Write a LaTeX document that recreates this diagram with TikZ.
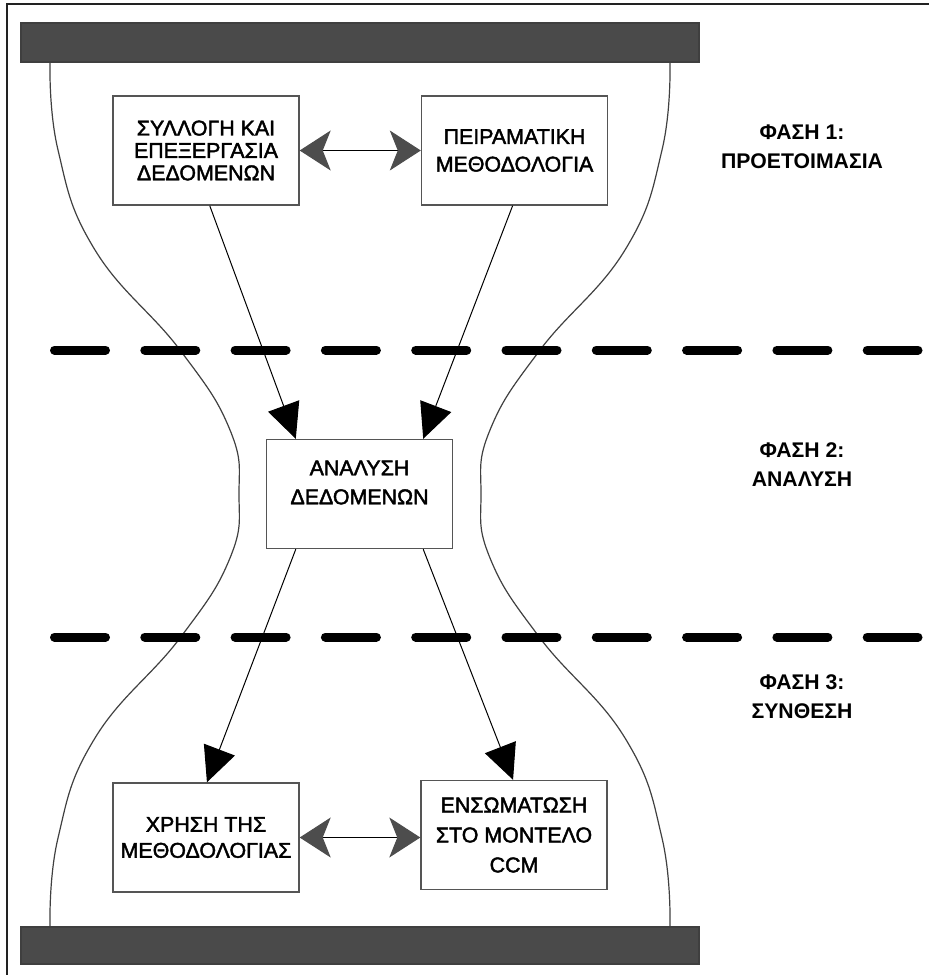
\documentclass[tikz,border=0pt]{standalone}
\usepackage{fontspec}
\setmainfont{Liberation Sans}
\newfontfamily\boxface[FakeBold=2]{Liberation Sans}
\usetikzlibrary{arrows.meta,calc}
\definecolor{bargray}{HTML}{4A4A4A}
\definecolor{boxgray}{HTML}{555555}
\definecolor{headgray}{HTML}{4D4D4D}
\definecolor{framegray}{HTML}{222222}

\begin{document}
\begin{tikzpicture}[x=0.5pt,y=-0.5pt,
  box/.style={draw=boxgray, line width=0.7pt, minimum width=93pt, minimum height=54.5pt,
    inner sep=0pt, align=center},
  boxfont/.style={font=\boxface\fontsize{10.7}{#1}\selectfont},
  phase/.style={align=center, font=\fontsize{10.6}{14.5}\selectfont\bfseries, inner sep=0pt},
  flow/.style={line width=0.5pt, -{Triangle[length=17.5pt,width=16.5pt]}},
  link/.style={line width=0.5pt,
    {Stealth[length=15.5pt,width=20pt,inset=4pt,color=headgray]}-{Stealth[length=15.5pt,width=20pt,inset=4pt,color=headgray]}},
  bar/.style={fill=bargray, draw=bargray!85!black, line width=0.6pt},
  divider/.style={line width=4.5pt, line cap=round, dash pattern=on 25.5pt off 19.65pt},
  waist/.style={draw=black!75, line width=0.6pt}
]
\useasboundingbox (0,0) rectangle (929,975);

% outer frame (top and left edges)
\draw[framegray, line width=1pt] (7,975) -- (7,4) -- (929,4);

% top and bottom plates
\draw[bar] (21,23) rectangle (699,62);
\draw[bar] (21,927) rectangle (699,964);

% hourglass outline
\draw[waist] plot[smooth, tension=0.75] coordinates {
  (50,62) (58,150) (95,250) (180,350) (230,430) (239,494)
  (230,558) (180,638) (95,738) (58,838) (50,927)};
\draw[waist] plot[smooth, tension=0.75] coordinates {
  (670,62) (662,150) (625,250) (540,350) (490,430) (481,494)
  (490,558) (540,638) (625,738) (662,838) (670,927)};

% phase boundaries
\draw[divider] (54.5,350) -- (918,350);
\draw[divider] (54.5,637) -- (918,637);

% process boxes
\node[box, boxfont=11.2] (b1) at (206,150.5)
  {ΣΥΛΛΟΓΗ ΚΑΙ\\ΕΠΕΞΕΡΓΑΣΙΑ\\ΔΕΔΟΜΕΝΩΝ};
\node[box, boxfont=13.8] (b2) at (514.5,150.5)
  {ΠΕΙΡΑΜΑΤΙΚΗ\\ΜΕΘΟΔΟΛΟΓΙΑ};
\node[box] (b3) at (359.5,494) {};
\node[boxfont=14.5, align=center, inner sep=0pt] (b3text) at (359.5,482.5)
  {ΑΝΑΛΥΣΗ\\ΔΕΔΟΜΕΝΩΝ};
\node[box, boxfont=13] (b4) at (206,837.5)
  {ΧΡΗΣΗ ΤΗΣ\\ΜΕΘΟΔΟΛΟΓΙΑΣ};
\node[box, boxfont=15] (b5) at (514,835)
  {ΕΝΣΩΜΑΤΩΣΗ\\ΣΤΟ ΜΟΝΤΕΛΟ\\CCM};

% phase labels
\node[phase] (p1) at (802,146.5) {ΦΑΣΗ 1:\\ΠΡΟΕΤΟΙΜΑΣΙΑ};
\node[phase] (p2) at (802,465) {ΦΑΣΗ 2:\\ΑΝΑΛΥΣΗ};
\node[phase] (p3) at (802,697) {ΦΑΣΗ 3:\\ΣΥΝΘΕΣΗ};

% connectors
\draw[link] (b1.east) -- (b2.west);
\draw[link] (b4.east) -- (b5.west |- b4.east);
\draw[flow] ($(b1.south west)!0.52!(b1.south east)$) -- ($(b3.north west)!0.16!(b3.north east)$);
\draw[flow] ($(b2.south west)!0.49!(b2.south east)$) -- ($(b3.north west)!0.84!(b3.north east)$);
\draw[flow] ($(b3.south west)!0.16!(b3.south east)$) -- ($(b4.north west)!0.505!(b4.north east)$);
\draw[flow] ($(b3.south west)!0.84!(b3.south east)$) -- ($(b5.north west)!0.495!(b5.north east)$);
\end{tikzpicture}
\end{document}
